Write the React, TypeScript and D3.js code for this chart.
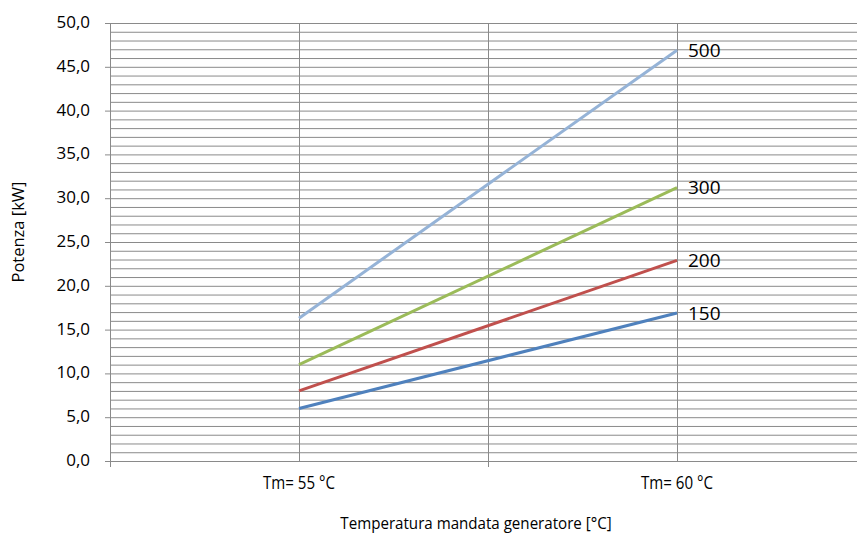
import React from "react";
import * as d3 from "d3";

const categories = ["Tm= 55 °C", "Tm= 60 °C"];
const seriesNames = ["150", "200", "300", "500"];
const values150 = [6.0, 16.9];
const values200 = [8.0, 22.9];
const values300 = [11.0, 31.2];
const values500 = [16.3, 46.9];
const yTicks = [0, 5, 10, 15, 20, 25, 30, 35, 40, 45, 50];
const colors = ["#4F81BD", "#C0504D", "#9BBB59", "#95B3D7"];

const W = 857;
const H = 534;
const left = 110;
const right = 866;
const top = 23;
const bottom = 461;
const FONT = "'Open Sans', sans-serif";

export default function App() {
  const x = d3.scaleBand<string>().domain(categories).range([left, right]);
  const xc = (c: string) => (x(c) as number) + x.bandwidth() / 2;
  const y = d3.scaleLinear().domain([0, 50]).range([bottom, top]);
  const minor = d3.range(0, 51, 1);
  const series = [values150, values200, values300, values500];
  const line = d3
    .line<number>()
    .x((_, i) => xc(categories[i]))
    .y((d) => y(d));
  const mid = x(categories[1]) as number;
  const fmt = (v: number) => v.toFixed(1).replace(".", ",");

  return (
    <svg
      width={W}
      height={H}
      style={{ position: "absolute", left: 0, top: 0, background: "#fff" }}
      fontFamily={FONT}
    >
      {minor.map((v) => (
        <line
          key={"h" + v}
          x1={left}
          x2={right}
          y1={y(v) + 0.5}
          y2={y(v) + 0.5}
          stroke="#8a8a8a"
          strokeWidth={1}
        />
      ))}
      {categories.map((c) => (
        <line
          key={"vc" + c}
          x1={Math.round(xc(c)) + 0.5}
          x2={Math.round(xc(c)) + 0.5}
          y1={top}
          y2={bottom}
          stroke="#8a8a8a"
        />
      ))}
      <line
        x1={Math.round(mid) + 0.5}
        x2={Math.round(mid) + 0.5}
        y1={top}
        y2={bottom + 6}
        stroke="#8a8a8a"
      />
      <line x1={left + 0.5} x2={left + 0.5} y1={top} y2={bottom + 1} stroke="#8a8a8a" />
      {yTicks.map((t) => (
        <g key={"yt" + t}>
          <line x1={left - 5} x2={left} y1={y(t) + 0.5} y2={y(t) + 0.5} stroke="#8a8a8a" />
          <text
            x={left - 20}
            y={y(t) - 1}
            dy="0.35em"
            textAnchor="end"
            fontSize={17}
            fill="#000"
          >
            {fmt(t)}
          </text>
        </g>
      ))}
      <line x1={left} x2={right} y1={bottom + 0.5} y2={bottom + 0.5} stroke="#8a8a8a" />
      <line x1={left + 0.5} x2={left + 0.5} y1={bottom} y2={bottom + 6} stroke="#8a8a8a" />
      {categories.map((c) => (
        <g key={"xt" + c} transform={`translate(${xc(c)},489) scale(0.84,1)`}>
          <text x={0} y={0} textAnchor="middle" fontSize={18} fill="#000">
            {c}
          </text>
        </g>
      ))}
      {series.map((s, i) => (
        <path
          key={"s" + i}
          d={line(s) as string}
          fill="none"
          stroke={colors[i]}
          strokeWidth={3}
        />
      ))}
      {series.map((s, i) => (
        <text
          key={"l" + i}
          x={xc(categories[1]) + 11}
          y={y(s[1])}
          dy="0.35em"
          fontSize={19}
          fill="#000"
        >
          {seriesNames[i]}
        </text>
      ))}
      <g transform="translate(476,529) scale(0.89,1)">
        <text x={0} y={0} textAnchor="middle" fontSize={17} fill="#000">
          Temperatura mandata generatore [°C]
        </text>
      </g>
      <text
        transform={`translate(24,232) rotate(-90)`}
        textAnchor="middle"
        fontSize={16.5}
        fill="#000"
      >
        Potenza [kW]
      </text>
    </svg>
  );
}
